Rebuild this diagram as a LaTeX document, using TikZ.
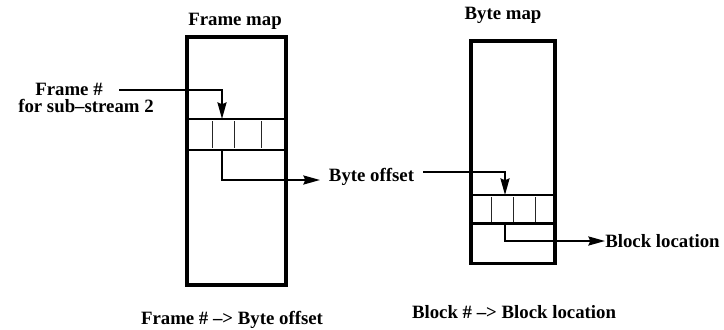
\documentclass[tikz,border=0pt]{standalone}
\usepackage{fontspec}
\setmainfont{Liberation Serif}
\usetikzlibrary{arrows.meta}
\begin{document}
\begin{tikzpicture}[x=0.75pt,y=-0.75pt,
  lbl/.style={font=\fontsize{14.1}{16}\selectfont\bfseries, inner sep=0pt, anchor=base},
  wall/.style={line width=2.6pt},
  rowline/.style={line width=2.2pt},
  divider/.style={line width=0.7pt, draw=black!85},
  link/.style={line width=1.5pt, -{Stealth[length=12.5pt,width=6.8pt,inset=1.5pt]}},
]
\useasboundingbox (0,0) rectangle (724,329);

% Frame map
\node[lbl] (ftitle) at (235,25) {Frame map};
\draw[wall] (187,37) rectangle (286,285);
\draw[rowline] (188,119) -- (285,119);
\draw[rowline] (187,150) -- (286,150);
\foreach \x in {212,234,261} \draw[divider] (\x,121) -- (\x,148);
\node[lbl] (fcap) at (232,324) {Frame \# --> Byte offset};

% Byte map
\node[lbl] (btitle) at (503,19) {Byte map};
\draw[wall] (471,41) rectangle (555,263.5);
\draw[rowline] (472,195) -- (554,195);
\draw[rowline] (471,223.5) -- (555,223.5);
\foreach \x in {491,513,535} \draw[divider] (\x,197) -- (\x,222);
\node[lbl] (bcap) at (514,318) {Block \# --> Block location};

% labels
\node[lbl] (fn1) at (69,95) {Frame \#};
\node[lbl] (fn2) at (86,112) {for sub--stream 2};
\node[lbl] (boff) at (371.5,181) {Byte offset};
\node[lbl, anchor=base west] (bloc) at (605,247) {Block location};

% connectors
\coordinate (fs) at (119,90);
\coordinate (ft) at (222,119);
\draw[link] (fs) -| (ft);

\coordinate (bs) at (222,150);
\coordinate (bt) at (320,180);
\draw[link] (bs) |- (bt);

\coordinate (os) at (423,172);
\coordinate (ot) at (505,195);
\draw[link] (os) -| (ot);

\coordinate (ls) at (505,223.5);
\coordinate (lt) at (605,241);
\draw[link] (ls) |- (lt);
\end{tikzpicture}
\end{document}
